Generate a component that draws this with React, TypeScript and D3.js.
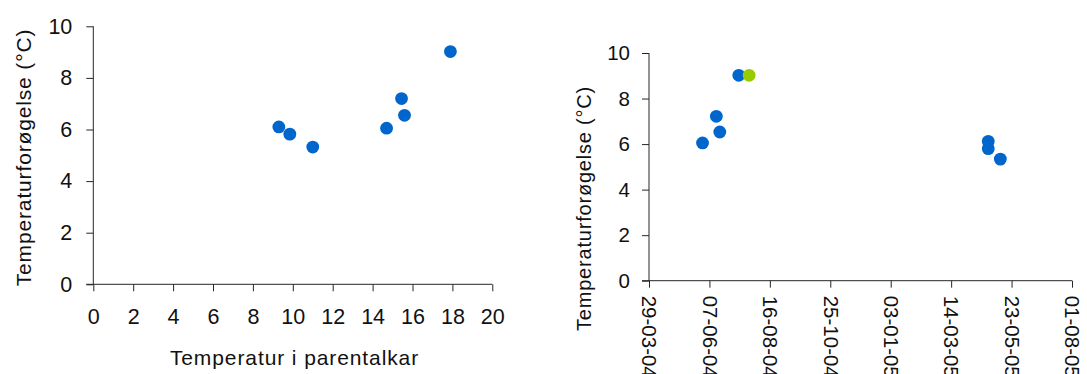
import React, { useEffect, useRef } from "react";
import * as d3 from "d3";

// Left panel: temperature increase vs. parent tank temperature
const parentTemp = [9.3, 9.85, 11.0, 14.7, 15.45, 15.6, 17.9];
const increaseA = [6.1, 5.82, 5.32, 6.05, 7.2, 6.55, 9.02];
const leftXTicks = [0, 2, 4, 6, 8, 10, 12, 14, 16, 18, 20];
const yTicks = [0, 2, 4, 6, 8, 10];

// Right panel: temperature increase vs. date
const sampleDates = ["2004-05-30", "2004-06-15", "2004-06-19", "2004-07-11", "2005-04-26", "2005-04-26", "2005-05-10"];
const increaseB = [6.05, 7.22, 6.53, 9.02, 6.12, 5.8, 5.34];
const highlightDates = ["2004-07-23"];
const highlightValues = [9.02];
const dateTickLabels = ["29-03-04", "07-06-04", "16-08-04", "25-10-04", "03-01-05", "14-03-05", "23-05-05", "01-08-05"];

const BLUE = "#0066CC";
const GREEN = "#99CC00";
const AXIS = "#262626";
const FONT = "'Liberation Sans', Arial, sans-serif";

const parseIso = d3.timeParse("%Y-%m-%d");
const parseTick = d3.timeParse("%d-%m-%y");
const fmtTick = d3.timeFormat("%d-%m-%y");

export default function App() {
  const ref = useRef<SVGSVGElement>(null);

  useEffect(() => {
    const svg = d3.select(ref.current);
    svg.selectAll("*").remove();

    // ---------- left panel ----------
    const xL = d3.scaleLinear().domain([0, 20]).range([93.3, 492.3]);
    const yL = d3.scaleLinear().domain([0, 10]).range([284.3, 26.3]);
    const gL = svg.append("g");

    const axL = gL.append("g").attr("transform", `translate(${xL(0)},0)`)
      .call(d3.axisLeft(yL).tickValues(yTicks).tickSize(7).tickPadding(14).tickFormat(d3.format("d")));
    const axB = gL.append("g").attr("transform", `translate(0,${yL(0)})`)
      .call(d3.axisBottom(xL).tickValues(leftXTicks).tickSize(7).tickPadding(17).tickFormat(d3.format("d")));
    [axL, axB].forEach((a) => {
      a.select(".domain").remove();
      a.selectAll(".tick line").attr("stroke", AXIS);
      a.selectAll(".tick text").attr("fill", "#111").style("font-family", FONT).style("font-size", "21.5px");
    });
    gL.append("line").attr("x1", xL(0)).attr("x2", xL(0)).attr("y1", yL(10)).attr("y2", yL(0)).attr("stroke", AXIS);
    gL.append("line").attr("x1", xL(0) - 7).attr("x2", xL(20)).attr("y1", yL(0)).attr("y2", yL(0)).attr("stroke", AXIS);

    gL.selectAll("circle.pt").data(parentTemp).join("circle")
      .attr("cx", (d) => xL(d)).attr("cy", (_, i) => yL(increaseA[i])).attr("r", 6.4).attr("fill", BLUE);

    gL.append("text").attr("x", 294.5).attr("y", 365).attr("text-anchor", "middle")
      .style("font-family", FONT).style("font-size", "21px").style("letter-spacing", "0.9px").attr("fill", "#111")
      .text("Temperatur i parentalkar");
    gL.append("text").attr("transform", "translate(30.5,157.5) rotate(-90)").attr("text-anchor", "middle")
      .style("font-family", FONT).style("font-size", "21px").style("letter-spacing", "0.85px").attr("fill", "#111")
      .text("Temperaturforøgelse (°C)");

    // ---------- right panel ----------
    const tickDates = dateTickLabels.map((s) => parseTick(s) as Date);
    const xR = d3.scaleTime().domain([tickDates[0], tickDates[tickDates.length - 1]]).range([649, 1072]);
    const yR = d3.scaleLinear().domain([0, 10]).range([280.7, 53]);
    const gR = svg.append("g");

    const axRL = gR.append("g").attr("transform", `translate(${xR(tickDates[0])},0)`)
      .call(d3.axisLeft(yR).tickValues(yTicks).tickSize(7).tickPadding(12).tickFormat(d3.format("d")));
    const axRB = gR.append("g").attr("transform", `translate(0,${yR(0)})`)
      .call(d3.axisBottom(xR).tickValues(tickDates).tickSize(7).tickFormat((d) => fmtTick(d as Date)));
    [axRL, axRB].forEach((a) => {
      a.select(".domain").remove();
      a.selectAll(".tick line").attr("stroke", AXIS);
      a.selectAll(".tick text").attr("fill", "#111").style("font-family", FONT).style("font-size", "20.5px");
    });
    axRB.selectAll(".tick text")
      .attr("y", 0).attr("dy", "0.35em")
      .attr("transform", "translate(0,15) rotate(90)")
      .attr("text-anchor", "start");
    gR.append("line").attr("x1", xR(tickDates[0])).attr("x2", xR(tickDates[0])).attr("y1", yR(10)).attr("y2", yR(0)).attr("stroke", AXIS);
    gR.append("line").attr("x1", xR(tickDates[0]) - 7).attr("x2", xR(tickDates[tickDates.length - 1])).attr("y1", yR(0)).attr("y2", yR(0)).attr("stroke", AXIS);

    gR.selectAll("circle.pt").data(sampleDates).join("circle")
      .attr("cx", (d) => xR(parseIso(d) as Date)).attr("cy", (_, i) => yR(increaseB[i])).attr("r", 6.4).attr("fill", BLUE);
    gR.selectAll("circle.hl").data(highlightDates).join("circle")
      .attr("cx", (d) => xR(parseIso(d) as Date)).attr("cy", (_, i) => yR(highlightValues[i])).attr("r", 6.4).attr("fill", GREEN);

    gR.append("text").attr("transform", "translate(590.5,208.5) rotate(-90)").attr("text-anchor", "middle")
      .style("font-family", FONT).style("font-size", "20px").style("letter-spacing", "0.8px").attr("fill", "#111")
      .text("Temperaturforøgelse (°C)");
  }, []);

  return (
    <svg ref={ref} width={1087} height={374}
      style={{ position: "absolute", left: 0, top: 0, background: "#fff" }} />
  );
}
